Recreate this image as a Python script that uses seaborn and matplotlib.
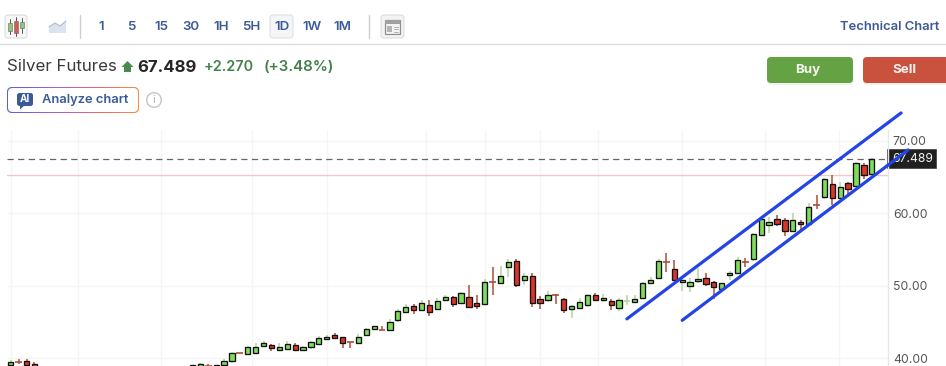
import numpy as np
import pandas as pd
import seaborn as sns
import matplotlib.pyplot as plt
from matplotlib.patches import FancyBboxPatch, Rectangle, Circle, Polygon
from matplotlib.colors import LinearSegmentedColormap

# candle slots, the ones between 3 and 23 sit below the visible range
slots = [0, 1, 2, 3] + list(range(23, 110))

opens = [39.08, 39.47, 39.55, 39.17, 38.62, 38.62, 38.92, 38.70, 39.08, 39.55,
         40.66, 40.59, 40.73, 41.61, 41.84, 41.15, 41.28, 41.84, 41.15, 41.48,
         41.97, 42.66, 43.17, 42.86, 42.18, 42.11, 43.13, 44.00, 43.92, 43.86,
         45.20, 46.39, 47.15, 46.65, 47.27, 46.80, 48.04, 48.37, 47.63, 48.37,
         47.63, 47.45, 50.54, 50.30, 52.51, 53.38, 50.72, 51.31, 48.10, 48.04,
         48.67, 48.10, 46.72, 46.86, 47.31, 48.65, 48.04, 47.90, 46.86, 47.88,
         47.73, 48.24, 50.39, 50.99, 53.22, 52.23, 50.44, 49.97, 50.58, 50.99,
         50.44, 49.52, 51.45, 51.77, 53.22, 53.61, 56.92, 58.41, 59.17, 59.04,
         57.52, 58.72, 58.52, 61.12, 62.25, 64.04, 62.03, 64.10, 63.77, 66.58,
         65.42]
closes = [39.49, 39.43, 39.08, 38.76, 39.04, 39.17, 38.88, 38.97, 39.63, 40.65,
          40.64, 41.52, 41.56, 42.03, 41.34, 41.56, 41.89, 41.15, 41.56, 42.17,
          42.72, 42.90, 42.76, 42.11, 42.16, 42.86, 44.04, 44.37, 43.90, 44.93,
          46.44, 47.01, 46.58, 47.63, 46.30, 47.90, 48.37, 47.45, 48.93, 47.08,
          47.13, 50.44, 50.50, 51.31, 53.24, 50.11, 51.31, 47.63, 47.59, 48.65,
          48.63, 46.58, 47.13, 47.77, 48.65, 48.04, 48.24, 47.31, 48.04, 47.92,
          48.10, 50.28, 50.72, 53.42, 53.18, 50.72, 50.72, 50.44, 50.86, 50.25,
          49.84, 50.30, 51.68, 53.56, 53.18, 57.10, 59.21, 58.72, 58.52, 57.52,
          59.04, 58.44, 60.79, 61.08, 64.65, 62.03, 63.63, 63.35, 66.90, 65.28,
          67.49]
highs = [39.72, 39.90, 39.86, 39.49, 39.10, 39.31, 39.17, 39.04, 39.82, 40.87,
         40.67, 41.70, 42.03, 42.30, 41.93, 42.03, 42.35, 42.07, 41.66, 42.35,
         42.99, 43.17, 43.41, 42.94, 42.19, 43.35, 44.10, 44.41, 44.37, 45.34,
         46.72, 47.41, 47.41, 48.00, 48.00, 48.32, 48.65, 48.55, 49.06, 50.07,
         48.69, 50.86, 52.51, 52.69, 53.61, 53.70, 51.77, 51.68, 48.59, 49.28,
         48.79, 48.24, 47.27, 48.24, 48.83, 48.97, 48.83, 48.10, 48.24, 48.65,
         48.65, 50.48, 51.21, 53.61, 54.52, 53.52, 50.90, 50.99, 52.37, 51.68,
         50.66, 50.40, 52.00, 53.89, 53.79, 57.28, 59.45, 59.45, 59.68, 59.35,
         59.96, 59.04, 61.34, 62.44, 64.79, 65.20, 64.24, 64.24, 66.99, 66.94,
         67.55]
lows = [39.03, 39.17, 38.90, 38.62, 38.50, 38.50, 38.62, 38.60, 38.94, 39.35,
        40.63, 40.51, 40.59, 41.48, 40.97, 41.10, 41.20, 41.10, 41.06, 41.28,
        41.89, 42.66, 42.62, 41.42, 41.42, 42.03, 43.05, 43.93, 43.82, 43.77,
        44.93, 46.30, 46.11, 46.58, 45.79, 46.72, 47.86, 47.08, 47.55, 46.94,
        46.80, 47.35, 48.69, 50.21, 51.21, 49.84, 50.11, 47.08, 46.80, 47.68,
        47.41, 46.25, 45.48, 46.76, 47.08, 47.86, 47.77, 46.62, 46.53, 47.31,
        47.63, 48.14, 50.30, 50.90, 51.90, 50.58, 49.28, 49.15, 50.30, 49.93,
        48.10, 49.38, 50.76, 51.68, 52.59, 53.42, 56.83, 57.31, 58.21, 56.83,
        57.34, 57.66, 58.44, 60.59, 61.97, 61.06, 61.89, 62.48, 63.68, 64.69,
        65.28]

y_ticks = [40, 50, 60, 70]
y_tick_labels = ['40.00', '50.00', '60.00', '70.00']
date_slots = [0, 8.5, 19, 30.5, 40, 52.6, 60, 67, 74.3, 85, 95.5, 104.8]

last_price = 67.489
prev_line = 65.22

upper_x = [78.0, 112.7]
upper_y = [45.4, 73.8]
lower_x = [85.0, 113.6]
lower_y = [45.2, 68.7]

intervals = ['1', '5', '15', '30', '1H', '5H', '1D', '1W', '1M']
interval_px = [101, 131, 161, 191, 221, 251, 282, 312, 342]

W, H = 946, 366
BLUE_TXT = '#3d5a98'
UP = '#7fdc5c'
DOWN = '#d9362a'
UP_WICK = '#b5d49d'
DOWN_WICK = '#a94f3b'

sns.set_theme(style='whitegrid')
plt.rcParams['font.family'] = ['Inter', 'DejaVu Sans']

df = pd.DataFrame({'slot': slots, 'open': opens, 'close': closes, 'high': highs, 'low': lows})
df['up'] = df['close'] >= df['open']
df['doji'] = (df['close'] - df['open']).abs() < 0.1

fig = plt.figure(figsize=(W / 100, H / 100), dpi=100, facecolor='white')

# page furniture, drawn in pixel coordinates
ui = fig.add_axes([0, 0, 1, 1], zorder=0)
ui.axis('off')


def box(x0, y0, x1, y1, fc, ec='none', r=3, lw=0.8, z=2):
    p = FancyBboxPatch((x0 + r, y0 + r), x1 - x0 - 2 * r, y1 - y0 - 2 * r,
                       boxstyle=f'round,pad={r},rounding_size={r}',
                       fc=fc, ec=ec, lw=lw, zorder=z)
    ui.add_patch(p)
    return p


# toolbar
box(5, 15, 27, 38, '#f6f7f6', '#dddddd')
for cx, y0, y1, b0, b1, col in [(10, 19, 34, 23, 31, '#8cc97a'), (16, 17, 36, 21, 33, '#d9594c'), (22, 18, 33, 22, 28, '#8cc97a')]:
    ui.plot([cx, cx], [y0, y1], color='#555555', lw=0.7, zorder=3)
    ui.add_patch(Rectangle((cx - 1.7, b0), 3.4, b1 - b0, fc=col, ec='#666666', lw=0.4, zorder=4))
ui.add_patch(Polygon([(49, 33), (49, 27), (55, 23), (60, 26), (66, 21), (66, 33)], fc='#dbe3ef', ec='none', zorder=2))
ui.plot([49, 55, 60, 66], [27, 23, 26, 21], color='#aebbd0', lw=0.8, zorder=3)
for sx in [80, 369]:
    ui.plot([sx, sx], [15, 38], color='#cfcfcf', lw=1, zorder=2)
box(270, 15, 293, 38, '#f4f5f6', '#e0e0e0')
for lab, px in zip(intervals, interval_px):
    ui.text(px, 27, lab, color=BLUE_TXT, fontsize=9.6, fontweight='semibold', ha='center', va='center', zorder=5)
box(381, 15, 404, 38, '#f3f3f3', '#dddddd')
ui.add_patch(Rectangle((385, 20), 15, 14, fc='#f3f3f3', ec='#909090', lw=0.9, zorder=3))
ui.add_patch(Rectangle((385, 20), 15, 3.5, fc='#a0a0a0', ec='none', zorder=4))
ui.add_patch(Rectangle((387, 26), 5, 6, fc='#b5b5b5', ec='none', zorder=4))
for ly in [26.5, 29, 31.5]:
    ui.plot([394, 398], [ly, ly], color='#b0b0b0', lw=0.7, zorder=4)
ui.text(939.5, 27, 'Technical Chart', color=BLUE_TXT, fontsize=9.35, fontweight='semibold', ha='right', va='center')
ui.plot([0, W], [43.5, 43.5], color='#dcdcdc', lw=1, zorder=2)

# instrument header
ui.text(7, 66.5, 'Silver Futures', color='#3a3a3a', fontsize=12.2, ha='left', va='center')
ui.add_patch(Polygon([(127.5, 61), (133.5, 67), (131, 67), (131, 72), (124, 72), (124, 67), (121.5, 67)],
                     fc='#4a8a4c', ec='none', zorder=3))
ui.text(137.5, 67, '67.489', color='#262626', fontsize=12.1, fontweight='bold', ha='left', va='center')
ui.text(203.5, 67, '+2.270', color='#43804a', fontsize=10.4, fontweight='semibold', ha='left', va='center')
ui.text(263.5, 67, '(+3.48%)', color='#43804a', fontsize=10.8, fontweight='semibold', ha='left', va='center')

# analyze button with gradient outline
outline = box(7, 87, 139, 113, 'none', r=5, z=1)
ramp = LinearSegmentedColormap.from_list('ramp', ['#5560dc', '#9a62d8', '#e8686e', '#f0913f'])
img = ui.imshow(np.linspace(0, 1, 200).reshape(1, -1), cmap=ramp, extent=(7, 139, 113, 87), aspect='auto', zorder=1)
img.set_clip_path(outline)
box(8, 88, 138, 112, 'white', r=4.5, z=2)
box(17, 93, 33, 106, '#3d5a98', r=2.5, z=3)
ui.add_patch(Polygon([(20, 105), (25, 105), (20, 109.5)], fc='#3d5a98', ec='none', zorder=3))
ui.text(25, 99.5, 'AI', color='white', fontsize=7.2, fontweight='bold', ha='center', va='center', zorder=4)
ui.text(42, 100, 'Analyze chart', color=BLUE_TXT, fontsize=9.3, fontweight='semibold', ha='left', va='center', zorder=4)
ui.add_patch(Circle((154, 100), 7.3, fc='white', ec='#c4c4c4', lw=1, zorder=3))
ui.text(154, 100, 'i', color='#b0b0b0', fontsize=8, ha='center', va='center', zorder=4)

# buy and sell
box(767, 59, 853, 85, '#eef5ea', r=4, z=1)
box(863, 59, 952, 85, '#f8ece9', r=4, z=1)
box(767, 57, 853, 83, '#65a243', r=4)
box(863, 57, 952, 83, '#c8523e', r=4)
ui.text(807.5, 70, 'Buy', color='#f4f8f1', fontsize=9.6, fontweight='bold', ha='center', va='center', zorder=4)
ui.text(904.5, 70, 'Sell', color='#fbf1ee', fontsize=9.6, fontweight='bold', ha='center', va='center', zorder=4)

# last price tag, under the channel lines
ui.add_patch(Rectangle((887, 149), 49, 19, fc='#202020', ec='#3a3a3a', lw=0.5, zorder=2))
ui.text(912.5, 159.5, '67.489', color='#f2f2f2', fontsize=8.7, ha='center', va='center', zorder=3)

ui.set_xlim(0, W)
ui.set_ylim(H, 0)

# price panel
ax = fig.add_axes([7 / W, 0, 881 / W, (H - 130) / H], zorder=1)
ax.patch.set_visible(False)

for _, c in df.iterrows():
    wick = UP_WICK if c['up'] else DOWN_WICK
    ax.vlines(c['slot'], c['low'], c['high'], color=wick, lw=1.1, zorder=3)
    if c['doji']:
        ax.hlines(c['close'], c['slot'] - 0.42, c['slot'] + 0.42, color=wick, lw=1.2, zorder=3)

bodies = df[~df['doji']]
ax.bar(bodies['slot'], (bodies['close'] - bodies['open']).abs(), bottom=bodies[['open', 'close']].min(axis=1),
       width=0.66, color=np.where(bodies['up'], UP, DOWN), edgecolor='#111111', linewidth=0.95, zorder=4)

ax.axhline(prev_line, color='#f0c8cc', lw=1, zorder=2)
ax.axhline(last_price, color='#666666', lw=0.9, ls=(0, (5, 3.5)), zorder=2)

sns.lineplot(x=upper_x, y=upper_y, color='#2344e6', lw=2.3, sort=False, errorbar=None, clip_on=False, ax=ax, zorder=6)
sns.lineplot(x=lower_x, y=lower_y, color='#2344e6', lw=2.3, sort=False, errorbar=None, clip_on=False, ax=ax, zorder=6)

ax.set_xlim(-0.47, 111.05)
ax.set_ylim(38.9, 71.45)
ax.set_xticks(date_slots)
ax.set_yticks(y_ticks)
ax.set_yticklabels(y_tick_labels)
ax.yaxis.tick_right()
ax.tick_params(axis='x', length=0, labelbottom=False)
ax.tick_params(axis='y', length=0, pad=3.5, labelsize=8.8, labelcolor='#555555')
ax.grid(True, color='#f5f5f5', lw=0.9)
ax.set_axisbelow(True)
ax.set_xlabel('')
ax.set_ylabel('')
for side in ['top', 'left', 'bottom']:
    ax.spines[side].set_visible(False)
ax.spines['right'].set_color('#e6e6ee')
ax.spines['right'].set_linewidth(1)

plt.savefig('out.png', dpi=100)
